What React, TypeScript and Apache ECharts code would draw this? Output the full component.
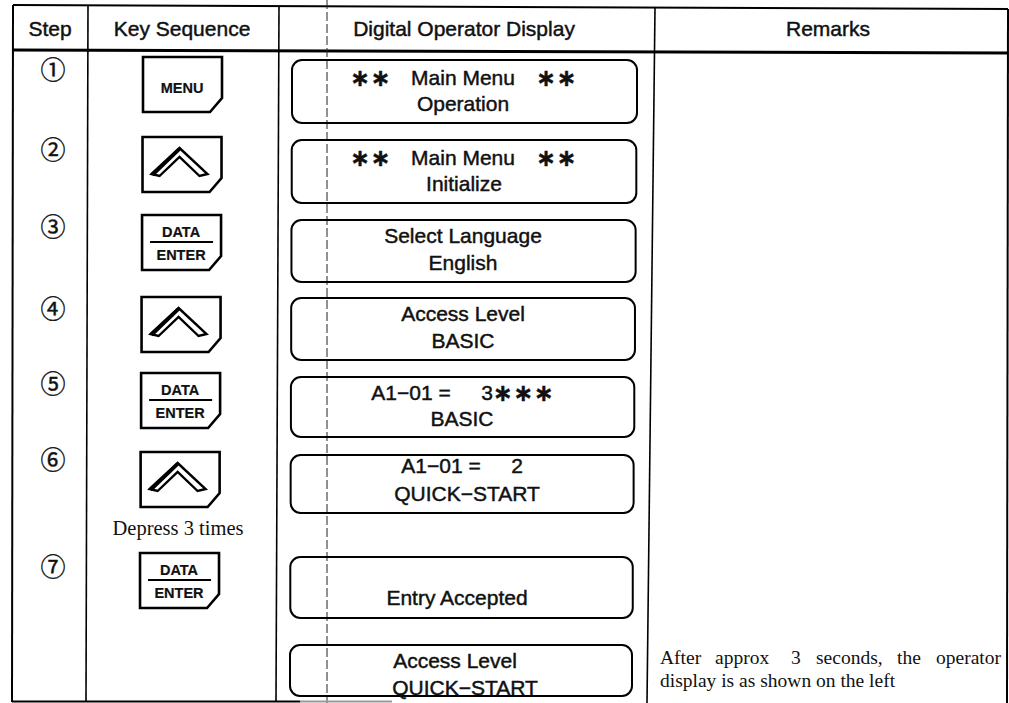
import React, { useEffect, useRef } from "react";
import * as echarts from "echarts";

// ---------- content ----------
const HEADERS = ["Step", "Key Sequence", "Digital Operator Display", "Remarks"];
const STEP_MARKS = ["①", "②", "③", "④", "⑤", "⑥", "⑦"];
const KEY_SEQUENCE = ["MENU", "UP", "DATA/ENTER", "UP", "DATA/ENTER", "UP", "DATA/ENTER"];
const KEY_NOTE = "Depress 3 times";
const DISPLAY_LINE1 = [
  ["∗∗", "Main Menu", "∗∗"],
  ["∗∗", "Main Menu", "∗∗"],
  ["Select Language"],
  ["Access Level"],
  ["A1−01 =", "3", "∗∗∗"],
  ["A1−01 =", "2"],
  [],
  ["Access Level"],
];
const DISPLAY_LINE2 = ["Operation", "Initialize", "English", "BASIC", "BASIC", "QUICK−START", "Entry Accepted", "QUICK−START"];
const REMARK_LINE1 = ["After", "approx", "3", "seconds,", "the", "operator"];
const REMARK_LINE2 = "display is as shown on the left";

// ---------- layout ----------
const HEADER_X = [50, 182, 464, 828];
const HEADER_Y = 28;
const STEP_X = 53;
const STEP_Y = [68, 148, 225, 307, 382, 458, 565];
const KEY_TOP = [57, 137, 215, 297, 373, 452, 553];
const KEY_NOTE_POS = [178, 528];
const BOX_TOP = [60, 140, 220, 298, 377, 455, 557, 645];
const BOX_BOTTOM = [123, 203, 282, 360, 437, 513, 618, 696];
const LINE1_Y = [77, 157, 235, 313, 392, 465, 0, 660];
const LINE2_Y = [103, 183, 262, 340, 418, 493, 597, 687];
const LINE1_X = [[370, 463, 556], [370, 463, 556], [463], [463], [411, 487, 523], [441, 517], [], [455]];
const LINE2_X = [463, 464, 463, 463, 462, 467, 457, 465];
const REMARK_X1 = [660, 715, 791, 816, 897, 1001];
const REMARK_Y = [657, 680];

const SANS = "Liberation Sans";
const SERIF = "Liberation Serif";
const INK = "#111";

function sansText(text: string, x: number, y: number, size = 21, extra: any = {}) {
  return {
    type: "text",
    x,
    y,
    style: {
      text,
      fontFamily: SANS,
      fontSize: size,
      fill: INK,
      stroke: INK,
      lineWidth: 0.45,
      align: "center",
      verticalAlign: "middle",
      ...extra,
    },
  };
}

function asterisks(count: number, cx: number, y: number) {
  const pitch = 20.5;
  const out: any[] = [];
  const start = cx - ((count - 1) * pitch) / 2;
  for (let i = 0; i < count; i++) {
    out.push({
      type: "text",
      x: start + i * pitch,
      y: y + 1,
      style: {
        text: "∗",
        fontFamily: "DejaVu Sans",
        fontWeight: "bold",
        fontSize: 24,
        fill: INK,
        stroke: INK,
        lineWidth: 0.3,
        align: "center",
        verticalAlign: "middle",
      },
    });
  }
  return out;
}

function keyElements(kind: string, top: number): any[] {
  const x0 = 143 - (3 * (top - 57)) / 500;
  const w = 79;
  const h = 55;
  const els: any[] = [
    {
      type: "polygon",
      shape: {
        points: [
          [x0, top],
          [x0 + w, top],
          [x0 + w, top + h - 14],
          [x0 + w - 12, top + h],
          [x0, top + h],
        ],
      },
      style: { fill: "#fff", stroke: "#000", lineWidth: 2.6, lineJoin: "miter" },
    },
  ];
  if (kind === "MENU") {
    els.push(sansText("MENU", x0 + 39, top + 31, 14.5, { fontWeight: "bold", lineWidth: 0.2 }));
  } else if (kind === "DATA/ENTER") {
    const [a, b] = kind.split("/");
    els.push(sansText(a, x0 + 39, top + 17, 14.5, { fontWeight: "bold", lineWidth: 0.2 }));
    els.push({
      type: "line",
      shape: { x1: x0 + 8, y1: top + 27, x2: x0 + 71, y2: top + 27 },
      style: { stroke: "#000", lineWidth: 2 },
    });
    els.push(sansText(b, x0 + 39, top + 40, 14.5, { fontWeight: "bold", lineWidth: 0.2 }));
  } else {
    const p = (dx: number, dy: number) => [x0 + dx, top + dy];
    els.push({
      type: "polygon",
      shape: { points: [p(9, 37), p(37, 11), p(65, 37), p(57, 39), p(37, 20), p(17, 39)] },
      style: { fill: "#fff", stroke: "#000", lineWidth: 2.4, lineJoin: "miter" },
    });
    els.push({
      type: "line",
      shape: { x1: x0 + 10, y1: top + 38, x2: x0 + 37, y2: top + 12 },
      style: { stroke: "#000", lineWidth: 3.6 },
    });
  }
  return els;
}

function buildElements(): any[] {
  const els: any[] = [];
  const line = (x1: number, y1: number, x2: number, y2: number, lw: number, extra: any = {}) => ({
    type: "line",
    shape: { x1, y1, x2, y2 },
    style: { stroke: "#000", lineWidth: lw, ...extra },
  });

  // table frame
  els.push(line(13, 5, 1008, 9, 2));
  els.push(line(13, 50, 1008, 53, 3));
  els.push(line(13, 5, 12, 702, 2));
  els.push(line(88, 5, 86, 702, 1.6));
  els.push(line(279, 6, 276, 702, 1.6));
  els.push(line(327, 0, 327, 703, 1, { lineDash: [9, 3], stroke: "#222" }));
  els.push(line(655, 8, 647, 703, 1.6));
  els.push(line(1008, 9, 1007, 703, 2));
  els.push(line(12, 701.5, 300, 701.5, 2));
  els.push(line(300, 701.5, 392, 701.5, 2, { stroke: "#999" }));

  // headers
  HEADERS.forEach((h, i) => els.push(sansText(h, HEADER_X[i], HEADER_Y, 21)));

  // steps
  STEP_MARKS.forEach((s, i) =>
    els.push({
      type: "text",
      x: STEP_X,
      y: STEP_Y[i],
      style: {
        text: s,
        fontFamily: "Noto Sans CJK JP",
        fontSize: 25,
        fill: INK,
        stroke: INK,
        lineWidth: 0.4,
        align: "center",
        verticalAlign: "middle",
      },
    })
  );

  // keys
  KEY_SEQUENCE.forEach((k, i) => els.push(...keyElements(k, KEY_TOP[i])));
  els.push({
    type: "text",
    x: KEY_NOTE_POS[0],
    y: KEY_NOTE_POS[1],
    style: {
      text: KEY_NOTE,
      fontFamily: SERIF,
      fontSize: 20.5,
      fill: INK,
      align: "center",
      verticalAlign: "middle",
    },
  });

  // display boxes
  BOX_TOP.forEach((t, i) => {
    const left = 292 - (2 * (t - 60)) / 585;
    const right = 637 - (5 * (t - 60)) / 585;
    els.push({
      type: "rect",
      shape: { x: left, y: t, width: right - left, height: BOX_BOTTOM[i] - t, r: 10 },
      style: { fill: "none", stroke: "#000", lineWidth: 2 },
    });
    DISPLAY_LINE1[i].forEach((tok, j) => {
      const cx = LINE1_X[i][j];
      if (/^∗+$/.test(tok)) els.push(...asterisks(tok.length, cx, LINE1_Y[i]));
      else els.push(sansText(tok, cx, LINE1_Y[i], 21));
    });
    els.push(sansText(DISPLAY_LINE2[i], LINE2_X[i], LINE2_Y[i], 21));
  });

  // remarks (justified first line)
  REMARK_LINE1.forEach((w, i) =>
    els.push({
      type: "text",
      x: REMARK_X1[i],
      y: REMARK_Y[0],
      style: {
        text: w,
        fontFamily: SERIF,
        fontSize: 19.5,
        fill: INK,
        align: i === REMARK_LINE1.length - 1 ? "right" : "left",
        verticalAlign: "middle",
      },
    })
  );
  els.push({
    type: "text",
    x: 660,
    y: REMARK_Y[1],
    style: { text: REMARK_LINE2, fontFamily: SERIF, fontSize: 19.5, fill: INK, align: "left", verticalAlign: "middle" },
  });
  return els;
}

export default function App() {
  const ref = useRef<HTMLDivElement>(null);
  useEffect(() => {
    document.body.style.margin = "0";
    if (!ref.current) return;
    const chart = echarts.init(ref.current, undefined, { renderer: "svg" });
    chart.setOption({
      animation: false,
      backgroundColor: "#fff",
      graphic: { elements: buildElements() },
    });
    return () => chart.dispose();
  }, []);
  return <div ref={ref} style={{ width: 1009, height: 703 }} />;
}
